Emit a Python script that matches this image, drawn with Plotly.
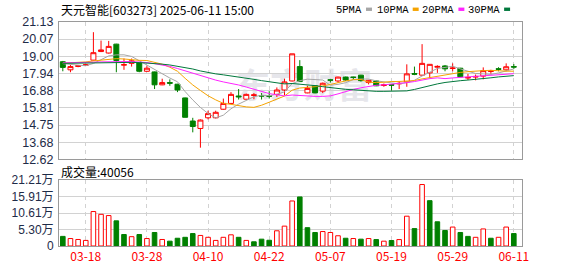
import numpy as np
import pandas as pd
import plotly.graph_objects as go

# ---------------- data ----------------
dates = ["03-13", "03-14", "03-17", "03-18", "03-19", "03-20", "03-21", "03-24", "03-25", "03-26",
         "03-27", "03-28", "03-31", "04-01", "04-02", "04-03", "04-07", "04-08", "04-09", "04-10",
         "04-11", "04-14", "04-15", "04-16", "04-17", "04-18", "04-21", "04-22", "04-23", "04-24",
         "04-25", "04-28", "04-29", "04-30", "05-06", "05-07", "05-08", "05-09", "05-12", "05-13",
         "05-14", "05-15", "05-16", "05-19", "05-20", "05-21", "05-22", "05-23", "05-26", "05-27",
         "05-28", "05-29", "05-30", "06-03", "06-04", "06-05", "06-06", "06-09", "06-10", "06-11"]

opens = [18.67, 18.17, 18.38, 18.45, 18.77, 19.30, 19.21, 19.76, 18.46, 18.57,
         18.61, 18.08, 18.04, 17.24, 17.38, 17.28, 16.43, 15.00, 14.54, 15.20,
         15.20, 15.73, 16.09, 16.55, 16.35, 16.58, 16.57, 16.58, 16.65, 16.92,
         17.48, 18.37, 16.74, 17.18, 16.85, 17.55, 17.48, 17.72, 17.72, 17.84,
         17.38, 17.48, 17.20, 17.26, 17.30, 17.42, 17.94, 17.84, 17.98, 18.33,
         18.41, 18.25, 18.27, 17.66, 17.72, 17.78, 18.07, 18.24, 18.17, 18.37]
highs = [18.72, 18.47, 18.47, 18.50, 20.50, 19.98, 19.96, 19.78, 18.87, 18.87,
         18.65, 18.41, 18.06, 17.62, 17.58, 17.30, 16.45, 15.20, 15.10, 15.64,
         15.64, 16.39, 16.79, 16.98, 16.70, 16.73, 16.73, 16.85, 17.08, 17.62,
         19.16, 18.77, 17.18, 17.20, 17.38, 17.58, 17.75, 17.75, 17.74, 17.86,
         17.55, 17.50, 17.32, 17.28, 17.48, 18.51, 18.37, 19.76, 18.53, 18.45,
         18.47, 18.57, 18.29, 17.92, 17.88, 18.32, 18.17, 18.33, 18.57, 18.53]
lows = [18.08, 18.02, 18.33, 18.42, 18.75, 19.27, 19.18, 18.02, 18.17, 18.37,
        18.02, 18.05, 16.98, 17.22, 17.18, 16.79, 15.23, 14.30, 13.35, 15.10,
        15.16, 15.70, 16.05, 16.33, 16.33, 16.35, 16.33, 16.39, 16.49, 16.59,
        17.45, 17.42, 16.72, 16.72, 16.73, 17.38, 17.38, 17.48, 17.54, 17.44,
        17.27, 17.16, 17.12, 16.88, 16.98, 17.12, 17.84, 17.80, 17.64, 17.98,
        18.08, 18.08, 17.72, 17.54, 17.52, 17.58, 17.93, 18.08, 18.08, 18.22]
closes = [18.32, 18.37, 18.42, 18.48, 19.23, 19.40, 19.62, 18.75, 18.49, 18.73,
          18.08, 18.27, 17.24, 17.38, 17.34, 16.92, 15.23, 14.66, 15.06, 15.46,
          15.54, 16.09, 16.65, 16.50, 16.65, 16.62, 16.55, 16.53, 16.92, 17.42,
          19.16, 17.44, 17.02, 16.74, 17.34, 17.53, 17.72, 17.54, 17.70, 17.50,
          17.52, 17.18, 17.24, 17.22, 17.33, 17.92, 17.90, 18.57, 18.51, 18.38,
          18.23, 18.28, 17.74, 17.70, 17.76, 18.12, 18.10, 18.20, 18.36, 18.34]
# volume in 万 (10k lots)
volumes = [3.1, 2.4, 2.1, 1.8, 11.1, 10.2, 9.8, 8.1, 3.7, 3.0,
           3.7, 2.4, 4.35, 2.1, 1.55, 2.5, 2.8, 4.0, 3.4, 2.8,
           1.8, 2.8, 3.6, 2.8, 1.8, 1.35, 2.2, 1.85, 4.9, 6.4,
           14.5, 15.8, 5.9, 4.35, 4.66, 4.35, 3.3, 2.5, 2.4, 2.2,
           2.4, 2.07, 1.55, 1.76, 2.07, 9.6, 5.6, 19.8, 14.6, 7.8,
           5.0, 6.1, 4.35, 3.1, 2.8, 5.5, 2.5, 2.8, 6.1, 4.0056]

ma5_head = [18.55, 18.50, 18.45, 18.42]
ma10_head = [18.58, 18.60, 18.62, 18.66, 18.72, 18.78, 18.84, 18.86, 18.84]
ma20_head = [18.60, 18.60, 18.61, 18.62, 18.64, 18.66, 18.68, 18.68, 18.68, 18.68,
             18.66, 18.62, 18.55, 18.48, 18.38, 18.25, 18.10, 17.95, 17.80]
ma30_head = [18.57, 18.58, 18.59, 18.60, 18.62, 18.63, 18.64, 18.64, 18.64, 18.63,
             18.62, 18.60, 18.56, 18.52, 18.47, 18.40, 18.32, 18.22, 18.10, 18.00,
             17.92, 17.86, 17.80, 17.74, 17.66, 17.58, 17.50, 17.42, 17.36]

price_ticks = [12.62, 13.68, 14.75, 15.81, 16.88, 17.94, 19.00, 20.07, 21.13]
vol_ticks = [0, 5.30, 10.61, 15.91, 21.21]
date_ticks = ["03-18", "03-28", "04-10", "04-22", "05-07", "05-19", "05-29", "06-11"]
title_text = "天元智能[603273] 2025-06-11 15:00"
last_volume = 40056
ma_names = ["5PMA", "10PMA", "20PMA", "30PMA"]
watermark_text = "东方财富"

# ---------------- derived ----------------
c = pd.Series(closes, dtype=float)


def moving_average(n, head):
    s = c.rolling(n).mean()
    s.iloc[:len(head)] = head
    return s.round(3).tolist()


ma_series = [moving_average(5, ma5_head), moving_average(10, ma10_head),
             moving_average(20, ma20_head), moving_average(30, ma30_head)]
ma_colors = ["#a6a6a6", "#f5a300", "#ff22ff", "#00783c"]

up = [closes[0] >= opens[0]] + [closes[i] >= closes[i - 1] for i in range(1, len(closes))]
RED = "#ff0000"
GREEN = "#008000"
bar_fill = ["#ffffff" if u else GREEN for u in up]
bar_line = [RED if u else GREEN for u in up]

W, H = 578, 276
L, R, T, B = 56, 56, 22, 21
PH = H - T - B  # 233


def py(pix):  # pixel y -> paper y
    return (H - B - pix) / PH


def px(pix):  # pixel x -> paper x
    return (pix - L) / (W - L - R)


fig = go.Figure()

fig.add_trace(go.Candlestick(
    x=dates, open=opens, high=highs, low=lows, close=closes,
    increasing=dict(line=dict(color=RED, width=1), fillcolor="#ffffff"),
    decreasing=dict(line=dict(color=GREEN, width=1), fillcolor=GREEN),
    whiskerwidth=0, showlegend=False, hoverinfo="skip",
    xaxis="x", yaxis="y"))

for name, vals, col in zip(ma_names, ma_series, ma_colors):
    fig.add_trace(go.Scatter(x=dates, y=vals, mode="lines", name=name,
                             line=dict(color=col, width=1), showlegend=False,
                             hoverinfo="skip", xaxis="x", yaxis="y"))

fig.add_trace(go.Bar(x=dates, y=volumes,
                     marker=dict(color=bar_fill, line=dict(color=bar_line, width=1)),
                     showlegend=False, hoverinfo="skip", xaxis="x2", yaxis="y2"))

n = len(dates)
xrange = [-0.5, n + 0.07]
axis_font = dict(family="Liberation Sans, Arial, Noto Sans CJK SC", size=12.5, color="#1e2b48")
grid_col = "#d2d2d2"
border_col = "#9a9a9a"

fig.update_layout(
    width=W, height=H, autosize=False,
    margin=dict(l=L, r=R, t=T, b=B, pad=0),
    paper_bgcolor="#ffffff", plot_bgcolor="#ffffff",
    boxgap=0.35, boxgroupgap=0, bargap=0.4,
    xaxis=dict(domain=[0, 1], anchor="y", type="category", range=xrange,
               tickmode="array", tickvals=date_ticks, showticklabels=False,
               showgrid=True, gridcolor=grid_col, griddash="4px,4px", gridwidth=1,
               showline=True, mirror=True, linecolor=border_col, linewidth=1,
               ticks="", zeroline=False, rangeslider=dict(visible=False), fixedrange=True),
    yaxis=dict(domain=[py(165), 1], anchor="x", range=[price_ticks[0], price_ticks[-1]],
               tickmode="array", tickvals=price_ticks,
               ticktext=[f"{v:.2f}" for v in price_ticks],
               showgrid=True, gridcolor=grid_col, gridwidth=1,
               showline=True, mirror=True, linecolor=border_col, linewidth=1,
               ticks="", zeroline=False, tickfont=axis_font, ticklabelstandoff=2),
    xaxis2=dict(domain=[0, 1], anchor="y2", type="category", range=xrange, matches="x",
                tickmode="array", tickvals=date_ticks, ticktext=date_ticks,
                showgrid=True, gridcolor=grid_col, griddash="4px,4px", gridwidth=1,
                showline=True, mirror=True, linecolor=border_col, linewidth=1,
                ticks="", zeroline=False,
                tickfont=dict(family="Noto Sans CJK SC", size=12, color=RED)),
    yaxis2=dict(domain=[0, py(186.5)], anchor="x2", range=[0, vol_ticks[-1]],
                tickmode="array", tickvals=np.linspace(0, vol_ticks[-1], len(vol_ticks)).tolist(),
                ticktext=["0" if v == 0 else f"{v:.2f}万" for v in vol_ticks],
                showgrid=True, gridcolor=grid_col, gridwidth=1,
                showline=True, mirror=True, linecolor=border_col, linewidth=1,
                ticks="", zeroline=False,
                tickfont=dict(family="Liberation Sans, Arial, Noto Sans CJK SC", size=12, color="#1e2b48"),
                ticklabelstandoff=2),
)

annotations = [
    dict(text=title_text, xref="paper", yref="paper", x=px(56), y=py(9),
         xanchor="left", yanchor="middle", showarrow=False,
         font=dict(family="Noto Sans CJK SC", size=12, color="#000000")),
    dict(text=f"成交量:{last_volume}", xref="paper", yref="paper", x=px(56), y=py(177),
         xanchor="left", yanchor="middle", showarrow=False,
         font=dict(family="Noto Sans CJK SC", size=12, color="#000000")),
]
shapes = []
legend_right = [363, 410, 456, 502]
for name, col, xr in zip(ma_names, ma_colors, legend_right):
    annotations.append(dict(text=name, xref="paper", yref="paper", x=px(xr), y=py(9),
                            xanchor="right", yanchor="middle", showarrow=False,
                            font=dict(family="Liberation Mono", size=10.5, color="#000000")))
    shapes.append(dict(type="rect", xref="paper", yref="paper",
                       x0=px(xr + 2), x1=px(xr + 8), y0=py(10.5), y1=py(7),
                       fillcolor=col, line=dict(width=0)))

# faint watermark, drawn beneath the traces
shapes.append(dict(type="rect", xref="paper", yref="paper",
                   x0=px(205), x1=px(400), y0=py(110), y1=py(72),
                   line=dict(width=0), fillcolor="rgba(0,0,0,0)", layer="below",
                   label=dict(text=f"<b>{watermark_text}</b>", textposition="middle center",
                              font=dict(family="Noto Sans CJK SC", size=34, color="#e6e6eb"))))

fig.update_layout(annotations=annotations, shapes=shapes)

fig.write_html("out.html", include_plotlyjs=True, config={"staticPlot": True})
